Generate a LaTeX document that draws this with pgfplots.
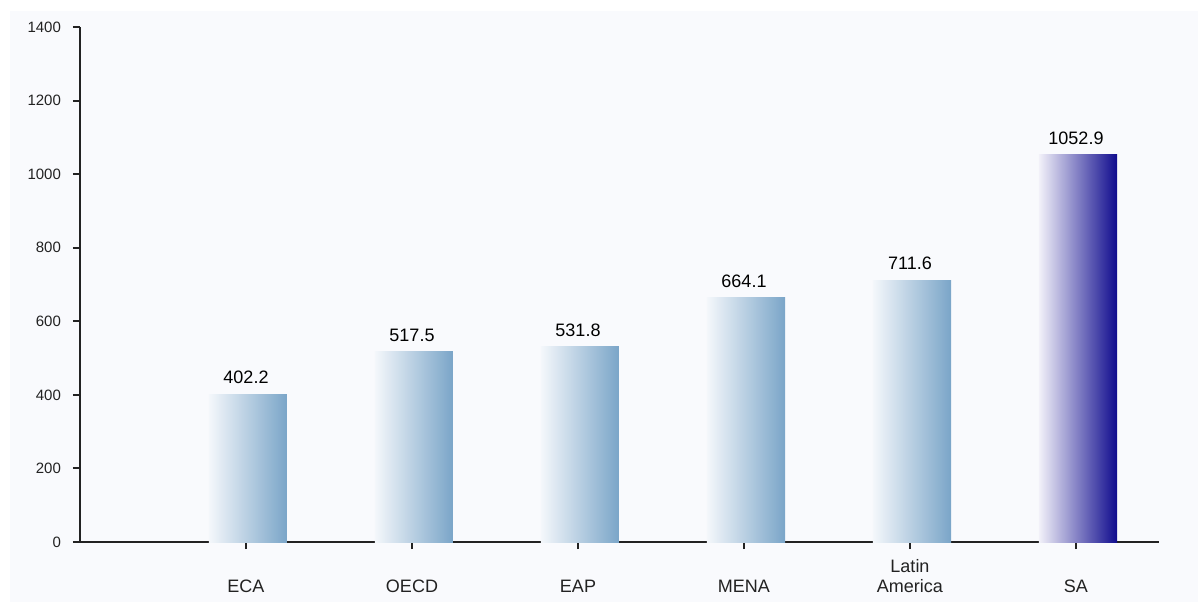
\documentclass[border=0pt]{standalone}
\usepackage{pgfplots}
\pgfplotsset{compat=1.18}
\usepackage{fontspec}
\setmainfont{Liberation Sans}
\definecolor{bg}{RGB}{249,250,253}
\definecolor{sl}{RGB}{244,247,251}
\definecolor{sr}{RGB}{122,165,200}
\definecolor{nl}{RGB}{242,241,249}
\definecolor{nr}{RGB}{16,12,142}
\definecolor{axc}{RGB}{34,34,34}
\begin{document}
\begin{tikzpicture}
\useasboundingbox (-40pt,-30pt) rectangle (559pt,271pt);
\fill[bg] (-35pt,-30pt) rectangle (559pt,265.5pt);
\begin{axis}[
  at={(0pt,0pt)}, anchor=south west,
  scale only axis, width=539.5pt, height=257.5pt,
  xmin=0, xmax=6.5, ymin=0, ymax=1400,
  axis x line*=bottom, axis y line*=left,
  axis line style={axc, line width=1pt},
  tick style={axc, line width=1pt},
  tick align=outside, major tick length=3.5pt,
  ytick={0,200,...,1400},
  xtick={1,2,3,4,5,6},
  xticklabels={ECA,OECD,EAP,MENA,{Latin\\America},SA},
  xticklabel style={align=center, font=\fontsize{9}{10}\selectfont, anchor=south, text depth=0pt, yshift=-25.5pt, text=axc},
  yticklabel style={font=\fontsize{7.5}{9}\selectfont, xshift=-2.5pt, text=axc},
  /pgf/number format/assume math mode=true,
  /pgf/number format/set thousands separator={},
  nodes near coords,
  nodes near coords style={font=\fontsize{9}{10}\selectfont, anchor=south, yshift=1.5pt, text=black, /pgf/number format/.cd, fixed, fixed zerofill, precision=1, assume math mode=true, set thousands separator={}},
  clip=false,
]
\addplot[ybar, bar width=39pt, bar shift=1pt, draw=none, left color=sl, right color=sr] coordinates {(1,402.2)};
\addplot[ybar, bar width=39pt, bar shift=1pt, draw=none, left color=sl, right color=sr] coordinates {(2,517.5)};
\addplot[ybar, bar width=39pt, bar shift=1pt, draw=none, left color=sl, right color=sr] coordinates {(3,531.8)};
\addplot[ybar, bar width=39pt, bar shift=1pt, draw=none, left color=sl, right color=sr] coordinates {(4,664.1)};
\addplot[ybar, bar width=39pt, bar shift=1pt, draw=none, left color=sl, right color=sr] coordinates {(5,711.6)};
\addplot[ybar, bar width=39pt, bar shift=1pt, draw=none, left color=nl, right color=nr] coordinates {(6,1052.9)};
\end{axis}
\end{tikzpicture}
\end{document}
